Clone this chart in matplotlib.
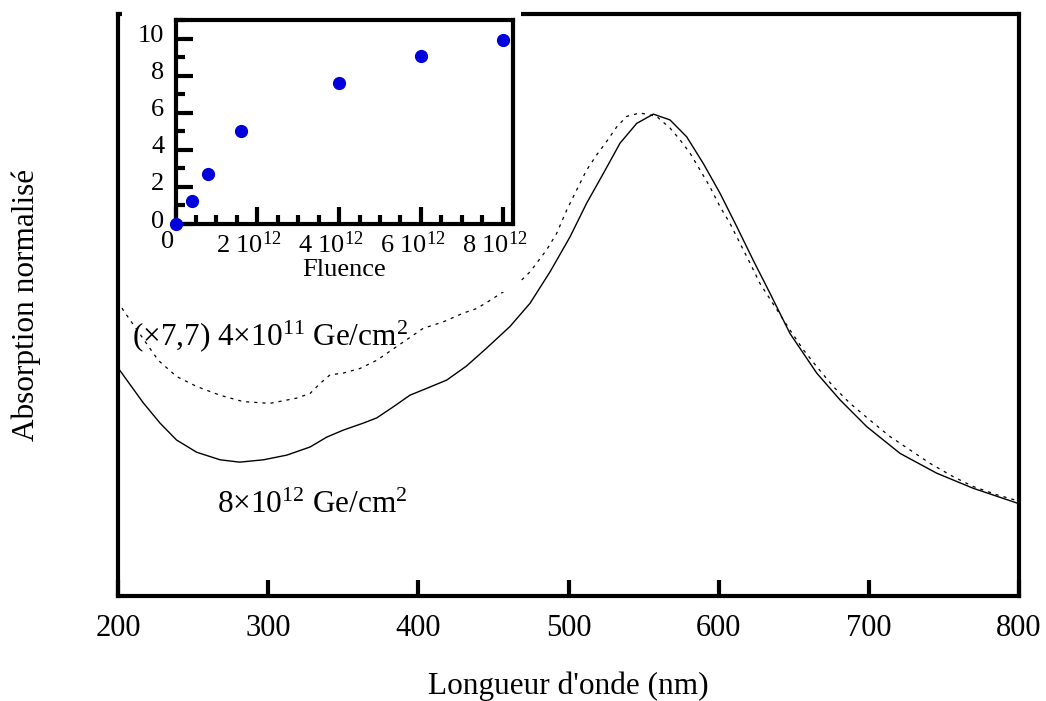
import numpy as np
import matplotlib
matplotlib.use('Agg')
import matplotlib.pyplot as plt
from matplotlib.patches import Rectangle
from matplotlib.ticker import MultipleLocator
from matplotlib.transforms import ScaledTranslation

plt.rcParams['font.family'] = ['Liberation Serif', 'DejaVu Serif']
plt.rcParams['mathtext.fontset'] = 'custom'
plt.rcParams['mathtext.rm'] = 'Liberation Serif'
plt.rcParams['mathtext.it'] = 'Liberation Serif:italic'
plt.rcParams['mathtext.bf'] = 'Liberation Serif:bold'

# spectre 8x10^12 Ge/cm2 (trait plein), unites arbitraires
wl_fort = [200, 216.8, 228, 239, 252.4, 268, 281, 296.8, 312.3, 327.9, 339, 350,
           363.3, 372.3, 383.3, 394.4, 407.7, 418.9, 432, 445.5, 461, 474.4,
           487.7, 501, 512.1, 523.2, 534.3, 545.4, 556.5, 567.6, 578.7, 589.8,
           600.9, 612, 623, 634.2, 647.5, 665.3, 680.8, 698.6, 720.8, 745.2,
           769.6, 799.5]
abs_fort = [0.392, 0.332, 0.297, 0.268, 0.247, 0.234, 0.230, 0.234, 0.242, 0.256,
            0.273, 0.285, 0.297, 0.306, 0.325, 0.345, 0.359, 0.371, 0.395, 0.426,
            0.463, 0.503, 0.557, 0.617, 0.675, 0.726, 0.778, 0.812, 0.828, 0.818,
            0.789, 0.743, 0.692, 0.635, 0.577, 0.520, 0.451, 0.383, 0.337, 0.291,
            0.245, 0.211, 0.185, 0.159]

# spectre 4x10^11 Ge/cm2 multiplie par 7,7 (pointilles)
wl_faible = [200, 203.5, 226.8, 239.1, 252.4, 267.9, 283.4, 301.2, 319, 327.9,
             334.5, 341.2, 350, 361.2, 372.3, 403.3, 416.6, 429.9, 438.9, 446.6,
             468.8, 474.4, 478.8, 485.5, 492.1, 498.8, 505.5, 512.1, 518.8, 525.4,
             532.1, 538.7, 547.6, 558.7, 567.6, 574.2, 580.9, 587.6, 594.2, 600.9,
             607.6, 614.2, 620.9, 627.5, 647.5, 656.4, 665.3, 676.3, 687.5, 700.8,
             714.1, 727.4, 740.7, 756.2, 769.6, 785.1, 797.3]
abs_faible = [0.507, 0.491, 0.405, 0.377, 0.360, 0.345, 0.334, 0.331, 0.340, 0.348,
              0.365, 0.380, 0.383, 0.391, 0.405, 0.460, 0.471, 0.486, 0.494, 0.506,
              0.543, 0.557, 0.572, 0.595, 0.623, 0.663, 0.698, 0.732, 0.758, 0.781,
              0.806, 0.824, 0.830, 0.824, 0.804, 0.784, 0.761, 0.732, 0.703, 0.669,
              0.640, 0.606, 0.572, 0.537, 0.457, 0.423, 0.394, 0.360, 0.331, 0.302,
              0.274, 0.251, 0.228, 0.205, 0.188, 0.174, 0.165]

# encart : rapport d'absorption en fonction de la fluence
fluence = [0, 0.4e12, 0.8e12, 1.6e12, 4e12, 6e12, 8e12]
rapport = [0, 1.25, 2.7, 5.0, 7.6, 9.05, 9.9]
fluence_ticks = [0, 2e12, 4e12, 6e12, 8e12]
fluence_labels = ['0', r'2 $10^{12}$', r'4 $10^{12}$', r'6 $10^{12}$', r'8 $10^{12}$']

W, H = 1046, 701
fig = plt.figure(figsize=(W / 100, H / 100), dpi=100)

#main plot
#----------------------------
ax = fig.add_axes([118 / W, 1 - 596 / H, 901 / W, 582 / H])
ax.plot(wl_fort, abs_fort, color='black', lw=1.0)
ax.plot(wl_faible, abs_faible, color='black', lw=0.9, linestyle=(0, (2.5, 4)))
ax.set_xlim(200, 800)
ax.set_ylim(0, 1)
ax.set_xticks(range(200, 801, 100))
ax.set_yticks([])
ax.tick_params(axis='x', direction='in', length=11.5, width=3, pad=13,
               labelsize=22)
for s in ax.spines.values():
    s.set_linewidth(3)
ax.set_xlabel("Longueur d'onde (nm)", fontsize=22.5)
ax.xaxis.set_label_coords(0.5, -0.13)
ax.set_ylabel('Absorption normalisé', fontsize=22.5)
ax.yaxis.set_label_coords(-0.085, 0.5)

ax.text(393, 0.431, '(×7,7) 4×10$^{11}$ Ge/cm$^{2}$', fontsize=22.5,
        ha='right', va='baseline')
ax.text(393, 0.143, '8×10$^{12}$ Ge/cm$^{2}$', fontsize=22.5,
        ha='right', va='baseline')

# white area behind the inset
mask = Rectangle((122 / W, 1 - 292 / H), 399 / W, 292 / H, transform=fig.transFigure,
                 facecolor='white', edgecolor='none', zorder=1)
fig.add_artist(mask)

#inset
#----------------------------
ax_in = fig.add_axes([175.5 / W, 1 - 224 / H, 337 / W, 204 / H])
ax_in.set_zorder(2)
ax_in.plot(fluence, rapport, 'o', color='#0000dd', ms=8.5, clip_on=False, zorder=5)
ax_in.set_xlim(0, 8.24e12)
ax_in.set_ylim(0, 11)
ax_in.set_xticks(fluence_ticks)
ax_in.set_xticklabels(fluence_labels)
ax_in.xaxis.set_minor_locator(MultipleLocator(0.5e12))
ax_in.set_yticks(range(0, 11, 2))
ax_in.yaxis.set_minor_locator(MultipleLocator(1))
ax_in.tick_params(which='major', direction='in', length=12, width=3, labelsize=19)
ax_in.tick_params(which='minor', direction='in', length=6.5, width=3)
ax_in.tick_params(axis='x', pad=5)
ax_in.tick_params(axis='y', pad=8)
for s in ax_in.spines.values():
    s.set_linewidth(3)
ax_in.set_xlabel('Fluence', fontsize=19, labelpad=1)

for lab in ax_in.get_xticklabels():
    lab.set_transform(lab.get_transform() + ScaledTranslation(-0.08, 0, fig.dpi_scale_trans))
for lab in ax_in.get_yticklabels():
    lab.set_transform(lab.get_transform() + ScaledTranslation(0, 0.05, fig.dpi_scale_trans))

fig.savefig('out.png', dpi=100)
